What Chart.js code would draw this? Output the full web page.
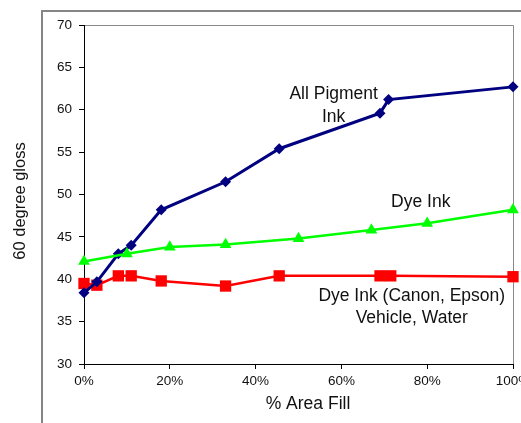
<!DOCTYPE html>
<html>
<head>
<meta charset="utf-8">
<script src="https://cdn.jsdelivr.net/npm/chart.js@4.4.1/dist/chart.umd.min.js"></script>
<style>
    html, body { margin: 0; padding: 0; background: #fff; }
    #wrap { width: 521px; height: 423px; }
</style>
</head>
<body>
<div id="wrap"><canvas id="gloss-chart" width="521" height="423"></canvas></div>
<script>
const xTicks = [0, 20, 40, 60, 80, 100];
const yTicks = [30, 35, 40, 45, 50, 55, 60, 65, 70];

// All Pigment Ink
const pigmentFill = [0, 3, 8, 11, 18, 33, 45.5, 69, 71, 100];
const pigmentGloss = [38.4, 39.7, 43.0, 44.0, 48.2, 51.5, 55.4, 59.6, 61.2, 62.7];

// Dye Ink
const dyeFill = [0, 10, 20, 33, 50, 67, 80, 100];
const dyeGloss = [42.1, 43.0, 43.8, 44.1, 44.8, 45.8, 46.6, 48.2];

// Dye Ink (Canon, Epson) vehicle, water
const vehicleFill = [0, 3, 8, 11, 18, 33, 45.5, 69, 71.5, 100];
const vehicleGloss = [39.5, 39.3, 40.4, 40.4, 39.8, 39.2, 40.4, 40.4, 40.4, 40.3];

const xTitle = '% Area Fill';
const yTitle = '60 degree gloss';

const FONT = 'Arial, "Liberation Sans", sans-serif';

// text labels placed inside the plot, anchored in data units
const notes = [
    { lines: ['All Pigment', 'Ink'], x: 58.2, y: 61.3, gap: 23.5 },
    { lines: ['Dye Ink'], x: 78.5, y: 48.5, gap: 0 },
    { lines: ['Dye Ink (Canon, Epson)', 'Vehicle, Water'], x: 76.4, y: 37.4, gap: 22 }
];

const zip = (xs, ys) => xs.map((x, i) => ({ x: x, y: ys[i] }));

const framePlugin = {
    id: 'frame',
    beforeDraw(chart) {
        const ctx = chart.ctx;
        const area = chart.chartArea;
        ctx.save();
        ctx.fillStyle = '#fff';
        ctx.fillRect(0, 0, chart.width, chart.height);

        // outer border (only top and left visible)
        ctx.strokeStyle = '#858585';
        ctx.lineWidth = 2;
        ctx.beginPath();
        ctx.moveTo(42, chart.height);
        ctx.lineTo(42, 11);
        ctx.lineTo(chart.width, 11);
        ctx.stroke();

        // plot area border top / right
        ctx.strokeStyle = '#8a8a8a';
        ctx.lineWidth = 1;
        ctx.beginPath();
        ctx.moveTo(area.left, area.top + 0.5);
        ctx.lineTo(area.right + 0.5, area.top + 0.5);
        ctx.lineTo(area.right + 0.5, area.bottom);
        ctx.stroke();
        ctx.restore();
    },
    afterDraw(chart) {
        const ctx = chart.ctx;
        const area = chart.chartArea;
        const xs = chart.scales.x;
        const ys = chart.scales.y;
        ctx.save();
        ctx.fillStyle = '#111';
        ctx.textAlign = 'center';
        ctx.textBaseline = 'alphabetic';

        ctx.font = '17.5px ' + FONT;
        notes.forEach(n => {
            const px = xs.getPixelForValue(n.x);
            const py = ys.getPixelForValue(n.y);
            n.lines.forEach((line, i) => ctx.fillText(line, px, py + i * n.gap));
        });

        // axis titles
        ctx.fillText(xTitle, (area.left + area.right) / 2 + 9.5, area.bottom + 45);

        ctx.font = '16.5px ' + FONT;
        ctx.translate(area.left - 59, (area.top + area.bottom) / 2 + 6.5);
        ctx.rotate(-Math.PI / 2);
        ctx.fillText(yTitle, 0, 0);
        ctx.restore();
    }
};

const tickFont = { family: FONT, size: 13.5 };

new Chart(document.getElementById('gloss-chart'), {
    type: 'scatter',
    data: {
        datasets: [
            {
                label: 'Dye Ink',
                data: zip(dyeFill, dyeGloss),
                showLine: true,
                borderColor: '#00ff00',
                backgroundColor: '#00ff00',
                borderWidth: 2.5,
                pointStyle: 'triangle',
                pointRadius: 6.8,
                pointBorderWidth: 0,
                pointHoverRadius: 6.8
            },
            {
                label: 'All Pigment Ink',
                data: zip(pigmentFill, pigmentGloss),
                showLine: true,
                borderColor: '#000080',
                backgroundColor: '#000080',
                borderWidth: 3,
                pointStyle: 'rectRot',
                pointRadius: 5.5,
                pointBorderWidth: 0,
                pointHoverRadius: 5.5
            },
            {
                label: 'Dye Ink (Canon, Epson) Vehicle, Water',
                data: zip(vehicleFill, vehicleGloss),
                showLine: true,
                borderColor: '#ff0000',
                backgroundColor: '#ff0000',
                borderWidth: 2.5,
                pointStyle: 'rect',
                pointRadius: 8,
                pointBorderWidth: 0,
                pointHoverRadius: 8
            }
        ]
    },
    options: {
        responsive: false,
        animation: false,
        clip: false,
        layout: { padding: { top: 25, right: 8, left: 0, bottom: 0 } },
        plugins: {
            legend: { display: false },
            tooltip: { enabled: false }
        },
        scales: {
            x: {
                type: 'linear',
                min: 0,
                max: 100,
                afterBuildTicks: scale => { scale.ticks = xTicks.map(v => ({ value: v })); },
                afterFit: scale => {
                    scale.height = 59;
                    scale.paddingLeft = 0;
                    scale.paddingRight = 0;
                },
                ticks: {
                    callback: v => v + '%',
                    font: tickFont,
                    color: '#111',
                    padding: 4,
                    maxRotation: 0,
                    autoSkip: false
                },
                grid: { drawOnChartArea: false, tickLength: 5, tickColor: '#000' },
                border: { color: '#000', width: 1 }
            },
            y: {
                type: 'linear',
                min: 30,
                max: 70,
                afterBuildTicks: scale => { scale.ticks = yTicks.map(v => ({ value: v })); },
                afterFit: scale => {
                    scale.width = 84;
                    scale.paddingTop = 0;
                    scale.paddingBottom = 0;
                },
                ticks: {
                    font: tickFont,
                    color: '#111',
                    padding: 7,
                    autoSkip: false
                },
                grid: { drawOnChartArea: false, tickLength: 5, tickColor: '#000' },
                border: { color: '#000', width: 1 }
            }
        }
    },
    plugins: [framePlugin]
});
</script>
</body>
</html>
